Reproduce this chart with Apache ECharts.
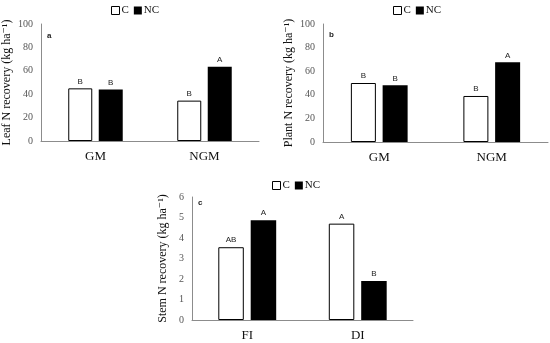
<!DOCTYPE html>
<html><head><meta charset="utf-8">
<script src="https://cdn.jsdelivr.net/npm/echarts@6/dist/echarts.min.js"></script>
<style>html,body{margin:0;padding:0;background:#fff}#c{width:550px;height:343px}</style>
</head><body><div id="c"></div>
<script>
const catsAB = ['GM', 'NGM'];
const leafC = [45, 34.5];
const leafNC = [44, 63.5];
const leafLetC = ['B', 'B'];
const leafLetNC = ['B', 'A'];
const plantC = [50, 39];
const plantNC = [48, 67.5];
const plantLetC = ['B', 'B'];
const plantLetNC = ['B', 'A'];
const catsC = ['FI', 'DI'];
const stemC = [3.55, 4.7];
const stemNC = [4.87, 1.9];
const stemLetC = ['AB', 'A'];
const stemLetNC = ['A', 'B'];
const yTicksAB = [0, 20, 40, 60, 80, 100];
const yTicksC = [0, 1, 2, 3, 4, 5, 6];

const serif = '"Liberation Serif","DejaVu Serif",serif';
const sans = '"Liberation Sans","DejaVu Sans",sans-serif';

const grids = [
  {left: 41, right: 291, top: 24, bottom: 202},
  {left: 323, right: 2, top: 24, bottom: 201},
  {left: 192, right: 137, top: 197, bottom: 23}
];
function xAx(i, cats) {
  return {type: 'category', gridIndex: i, data: cats,
    axisLine: {lineStyle: {color: '#8c8c8c', width: 1}}, axisTick: {show: false},
    axisLabel: {fontFamily: serif, fontSize: 13, color: '#111', margin: 9}};
}
function yAx(i, ticks, name) {
  return {type: 'value', gridIndex: i, min: ticks[0], max: ticks[ticks.length - 1],
    interval: ticks[1] - ticks[0], splitLine: {show: false},
    axisLine: {show: true, lineStyle: {color: '#8c8c8c', width: 1}}, axisTick: {show: false},
    axisLabel: {fontFamily: serif, fontSize: 10, color: '#555', margin: 8},
    name: name, nameLocation: 'middle', nameGap: i === 2 ? 23 : 28, nameRotate: 90,
    nameTextStyle: {fontFamily: serif, fontSize: 12, color: '#111'}};
}
function bars(i, name, vals, lets, isC, bw) {
  return {type: 'bar', name: name, xAxisIndex: i, yAxisIndex: i, data: vals,
    barWidth: bw, barGap: '27%',
    itemStyle: isC ? {color: '#fff', borderColor: '#000', borderWidth: 1} : {color: '#000'},
    label: {show: true, position: 'top', distance: 3, fontFamily: sans, fontSize: 8, color: '#222',
      formatter: p => lets[p.dataIndex]}};
}
function legend(left, top) {
  return {left: left, top: top, itemWidth: 8, itemHeight: 8, itemGap: 5, icon: 'rect',
    textStyle: {fontFamily: serif, fontSize: 11, color: '#111', padding: [0, 0, 0, -3]},
    data: [{name: 'C', itemStyle: {color: '#fff', borderColor: '#000', borderWidth: 1}}, {name: 'NC'}]};
}
const chart = echarts.init(document.getElementById('c'));
chart.setOption({
  animation: false,
  grid: grids,
  legend: [legend(106, 0), legend(388, 0), legend(267, 175)],
  xAxis: [xAx(0, catsAB), xAx(1, catsAB), xAx(2, catsC)],
  yAxis: [yAx(0, yTicksAB, 'Leaf N recovery (kg ha⁻¹)'), yAx(1, yTicksAB, 'Plant N recovery (kg ha⁻¹)'),
          yAx(2, yTicksC, 'Stem N recovery (kg ha⁻¹)')],
  series: [
    bars(0, 'C', leafC, leafLetC, true, 24), bars(0, 'NC', leafNC, leafLetNC, false, 24),
    bars(1, 'C', plantC, plantLetC, true, 25), bars(1, 'NC', plantNC, plantLetNC, false, 25),
    bars(2, 'C', stemC, stemLetC, true, 25.5), bars(2, 'NC', stemNC, stemLetNC, false, 25.5)
  ],
  graphic: [
    {type: 'text', left: 47, top: 32, style: {text: 'a', font: 'bold 8px ' + sans, fill: '#222'}},
    {type: 'text', left: 329, top: 31, style: {text: 'b', font: 'bold 8px ' + sans, fill: '#222'}},
    {type: 'text', left: 198, top: 199, style: {text: 'c', font: 'bold 8px ' + sans, fill: '#222'}}
  ]
});
</script></body></html>
